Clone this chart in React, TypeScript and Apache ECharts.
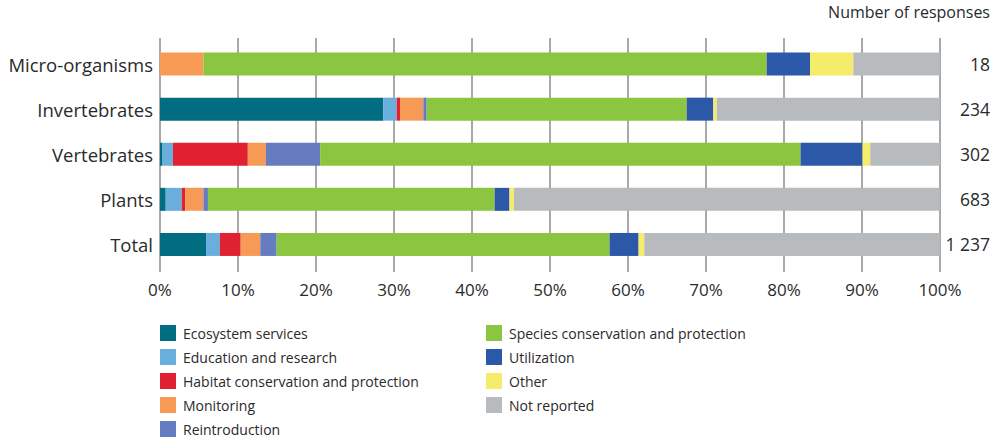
import React, { useEffect, useRef } from "react";
import * as echarts from "echarts";

const categories = ["Micro-organisms", "Invertebrates", "Vertebrates", "Plants", "Total"];
const responses = ["18", "234", "302", "683", "1 237"];
const totals = [18, 234, 302, 683, 1237];

const seriesNames = [
  "Ecosystem services",
  "Education and research",
  "Habitat conservation and protection",
  "Monitoring",
  "Reintroduction",
  "Species conservation and protection",
  "Utilization",
  "Other",
  "Not reported",
];
const colors = [
  "#006e80",
  "#6aaedd",
  "#e02131",
  "#f79a56",
  "#667cc0",
  "#8cc53f",
  "#2b58a7",
  "#f6ec6b",
  "#b7bbbe",
];

// counts per category (Micro-organisms, Invertebrates, Vertebrates, Plants, Total)
const ecosystem = [0, 67, 1, 5, 73];
const education = [0, 4, 4, 14, 22];
const habitat = [0, 1, 29, 3, 33];
const monitoring = [1, 7, 7, 16, 31];
const reintroduction = [0, 1, 21, 4, 26];
const species = [13, 78, 186, 251, 528];
const utilization = [1, 8, 24, 13, 46];
const other = [1, 1, 3, 4, 9];
const notReported = [2, 67, 27, 373, 469];

const seriesCounts = [
  ecosystem,
  education,
  habitat,
  monitoring,
  reintroduction,
  species,
  utilization,
  other,
  notReported,
];

const xTicks = { min: 0, max: 100, interval: 10 };

const FONT = "'Open Sans', 'Noto Sans', sans-serif";
const TEXT = "#2a2a2a";

export default function App() {
  const ref = useRef<HTMLDivElement>(null);
  useEffect(() => {
    if (!ref.current) return;
    const chart = echarts.init(ref.current, undefined, { renderer: "svg" });
    const series = seriesNames.map((name, i) => ({
      name,
      type: "bar",
      stack: "all",
      xAxisIndex: 0,
      yAxisIndex: 0,
      barWidth: 23,
      itemStyle: { color: colors[i] },
      data: seriesCounts[i].map((v, j) => (v / totals[j]) * 100),
    }));
    const legendBase = {
      orient: "vertical",
      top: 325,
      padding: 0,
      itemWidth: 16,
      itemHeight: 16,
      itemGap: 8,
      icon: "rect",
      textStyle: { fontSize: 14, color: TEXT, fontFamily: FONT, padding: [0, 0, 0, 2] },
      selectedMode: false,
    };
    chart.setOption({
      animation: false,
      textStyle: { fontFamily: FONT },
      grid: [
        { left: 160, right: 56, top: 41.5, bottom: 173 },
        { left: 160, right: 56, top: 38, bottom: 168 },
      ],
      xAxis: [
        { gridIndex: 0, type: "value", min: 0, max: 100, show: false },
        {
          gridIndex: 1,
          type: "value",
          min: xTicks.min,
          max: xTicks.max,
          interval: xTicks.interval,
          axisLine: { show: false },
          axisTick: { show: false },
          splitLine: { show: true, lineStyle: { color: "#8c8c8c", width: 1.5 } },
          axisLabel: {
            formatter: "{value}%",
            fontSize: 17,
            color: TEXT,
            margin: 9,
            fontFamily: FONT,
          },
        },
      ],
      yAxis: [
        {
          gridIndex: 0,
          type: "category",
          inverse: true,
          data: categories,
          axisLine: { show: false },
          axisTick: { show: false },
          axisLabel: { fontSize: 18.5, color: TEXT, margin: 7, fontFamily: FONT },
        },
        {
          gridIndex: 0,
          type: "category",
          inverse: true,
          position: "right",
          data: responses,
          axisLine: { show: false },
          axisTick: { show: false },
          axisLabel: {
            fontSize: 17.5,
            color: TEXT,
            margin: 50,
            align: "right",
            fontFamily: FONT,
          },
        },
        { gridIndex: 1, type: "value", min: 0, max: 1, show: false },
      ],
      legend: [
        { ...legendBase, left: 160, data: seriesNames.slice(0, 5) },
        { ...legendBase, left: 486, data: seriesNames.slice(5) },
      ],
      graphic: [
        {
          type: "text",
          right: 6,
          top: 4,
          style: {
            text: "Number of responses",
            fontSize: 16,
            fill: TEXT,
            fontFamily: FONT,
          },
        },
      ],
      series,
    });
    return () => chart.dispose();
  }, []);
  return (
    <div
      ref={ref}
      style={{ position: "absolute", left: 0, top: 0, width: 996, height: 440 }}
    />
  );
}
